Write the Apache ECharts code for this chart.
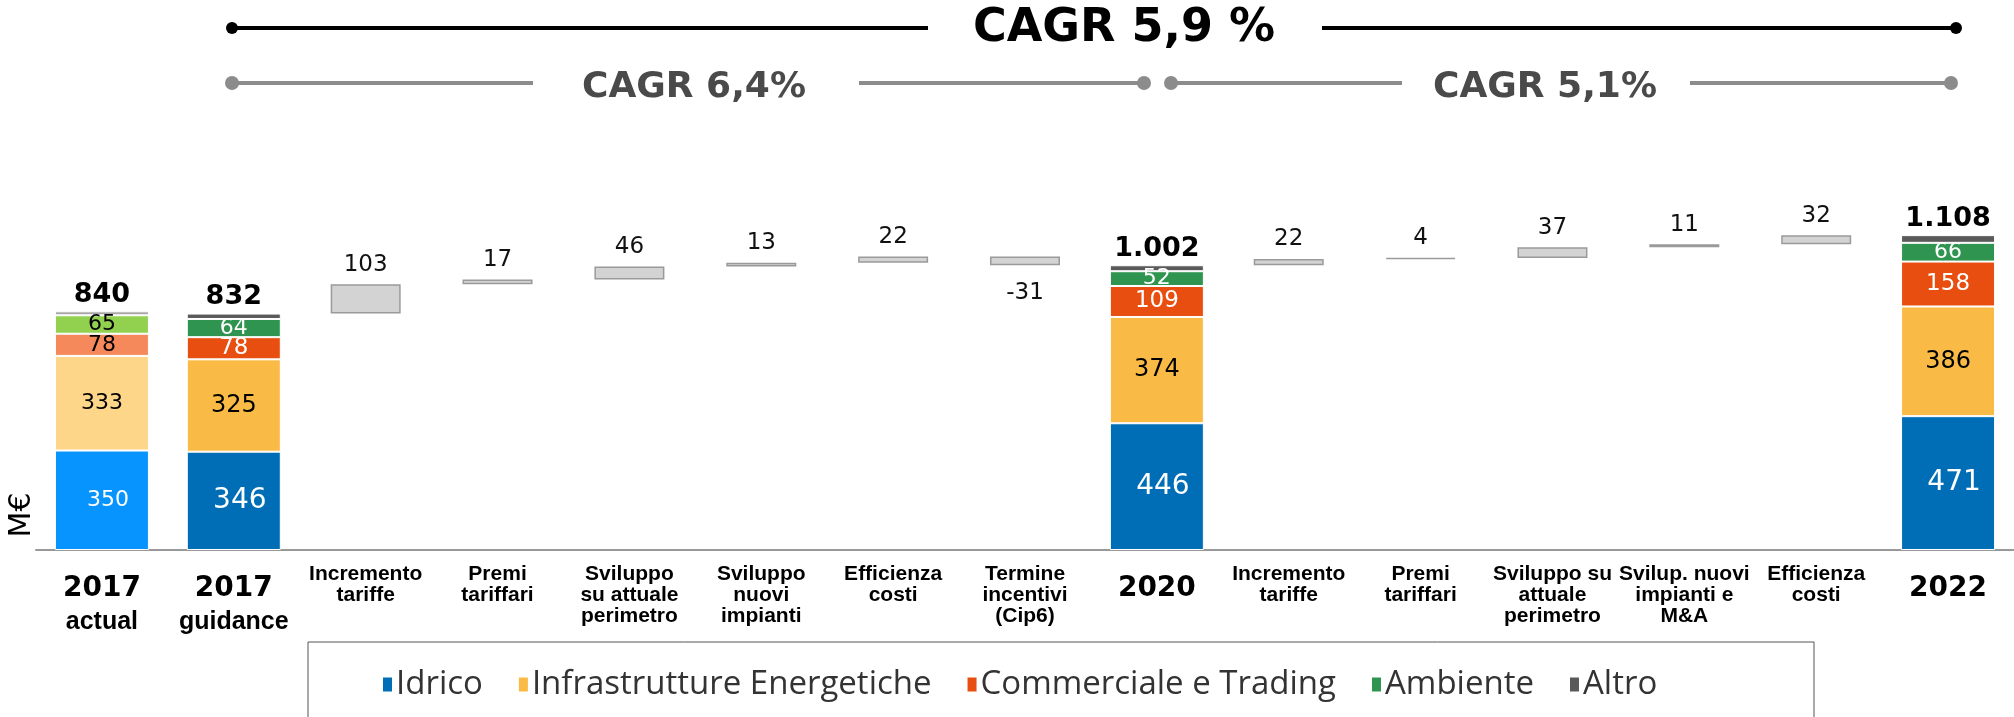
<!DOCTYPE html>
<html>
<head>
<meta charset="utf-8">
<title>Margine - bridge 2017-2022</title>
<script src="https://cdn.jsdelivr.net/npm/echarts@6/dist/echarts.min.js"></script>
<style>
    html, body { margin: 0; padding: 0; background: #fff; }
    #chart { width: 2014px; height: 717px; }
</style>
</head>
<body>
<div id="chart"></div>
<script>
// categorie (una per colonna)
const categories = ['2017 actual', '2017 guidance', 'Incremento tariffe', 'Premi tariffari',
    'Sviluppo su attuale perimetro', 'Sviluppo nuovi impianti', 'Efficienza costi',
    'Termine incentivi (Cip6)', '2020', 'Incremento tariffe ', 'Premi tariffari ',
    'Sviluppo su attuale perimetro ', 'Svilup. nuovi impianti e M&A', 'Efficienza costi ', '2022'];
const tickLabels = ['2017\nactual', '2017\nguidance', 'Incremento\ntariffe', 'Premi\ntariffari',
    'Sviluppo\nsu attuale\nperimetro', 'Sviluppo\nnuovi\nimpianti', 'Efficienza\ncosti',
    'Termine\nincentivi\n(Cip6)', '2020', 'Incremento\ntariffe', 'Premi\ntariffari',
    'Sviluppo su\nattuale\nperimetro', 'Svilup. nuovi\nimpianti e\nM&A', 'Efficienza\ncosti', '2022'];

// colonne piene (M€)
const idrico         = [350, 346, null, null, null, null, null, null, 446, null, null, null, null, null, 471];
const infrastrutture = [333, 325, null, null, null, null, null, null, 374, null, null, null, null, null, 386];
const commerciale    = [78,  78,  null, null, null, null, null, null, 109, null, null, null, null, null, 158];
const ambiente       = [65,  64,  null, null, null, null, null, null, 52,  null, null, null, null, null, 66];
const altro          = [14,  19,  null, null, null, null, null, null, 21,  null, null, null, null, null, 27];
const totals         = [840, 832, null, null, null, null, null, null, 1002, null, null, null, null, null, 1108];

// variazioni del ponte
const deltas = [null, null, 103, 17, 46, 13, 22, -31, null, 22, 4, 37, 11, 32, null];

const seriesNames = ['Idrico', 'Infrastrutture Energetiche', 'Commerciale e Trading', 'Ambiente', 'Altro'];
const mainColors = ['#006EB6', '#F9BB45', '#E84E0F', '#2E944F', '#595959'];
const actualColors = ['#0894FF', '#FDD68A', '#F5895C', '#92D050', '#A6A6A6'];

const NUM_FONT = "'DejaVu Sans', sans-serif";
const LBL_FONT = "'Liberation Sans', Arial, sans-serif";

function fmtTotal(v) {
    if (v == null) return '';
    if (v < 1000) return String(v);
    return Math.floor(v / 1000) + '.' + String(v % 1000).padStart(3, '0');
}

function fmtTick(v, i) {
    const lines = tickLabels[i].split('\n');
    if (/^\d{4}$/.test(lines[0])) {
        return '{y|' + lines[0] + '}' + (lines[1] ? '\n{s|' + lines[1] + '}' : '');
    }
    return lines.map(function (l) { return '{t|' + l + '}'; }).join('\n');
}

// base invisibile + scatola del ponte
let running = 0;
const wfBase = [];
const wfBox = [];
deltas.forEach(function (d, i) {
    if (d === null) {
        running = totals[i];
        wfBase.push(null);
        wfBox.push(null);
        return;
    }
    wfBase.push(d >= 0 ? running : running + d);
    wfBox.push({
        value: Math.abs(d),
        label: { position: d >= 0 ? 'top' : 'bottom', distance: d >= 0 ? 8 : 16 }
    });
    running += d;
});

function segSeries(k, values, lblColor, lblSize, bigFirst) {
    return {
        name: seriesNames[k],
        type: 'bar',
        stack: 'tot',
        xAxisIndex: 0,
        barWidth: 94,
        itemStyle: { color: mainColors[k], borderColor: '#fff', borderWidth: 1 },
        label: {
            show: k < 4,
            position: 'inside',
            fontFamily: NUM_FONT,
            fontSize: bigFirst ? 28 : lblSize,
            color: lblColor,
            offset: bigFirst ? [6, 0] : [0, 0]
        },
        emphasis: { disabled: true },
        data: values.map(function (v, i) {
            if (i !== 0 || v == null) return v;
            return {
                value: v,
                itemStyle: { color: actualColors[k] },
                label: { color: k === 0 ? '#fff' : '#000', fontSize: 22 }
            };
        })
    };
}

const series = [
    segSeries(0, idrico, '#fff', 28, true),
    segSeries(1, infrastrutture, '#000', 24, false),
    segSeries(2, commerciale, '#fff', 23, false),
    segSeries(3, ambiente, '#fff', 22, false),
    segSeries(4, altro, '#000', 22, false),
    {
        name: 'base',
        type: 'bar',
        stack: 'wf',
        xAxisIndex: 1,
        barWidth: 70,
        silent: true,
        itemStyle: { color: 'transparent' },
        data: wfBase
    },
    {
        name: 'delta',
        type: 'bar',
        stack: 'wf',
        xAxisIndex: 1,
        barWidth: 70,
        itemStyle: { color: '#D3D3D3', borderColor: '#9a9a9a', borderWidth: 1.5 },
        label: {
            show: true,
            fontFamily: NUM_FONT,
            fontSize: 23,
            color: '#111',
            formatter: function (p) { return String(deltas[p.dataIndex]); }
        },
        data: wfBox
    }
];

// totale sopra l'ultima fetta
series[4].label = {
    show: true,
    position: 'top',
    distance: 3,
    fontFamily: NUM_FONT,
    fontWeight: 'bold',
    fontSize: 27,
    color: '#000',
    formatter: function (p) { return fmtTotal(totals[p.dataIndex]); }
};
series[4].data = altro.map(function (v, i) {
    if (i !== 0 || v == null) return v;
    return { value: v, itemStyle: { color: actualColors[4] } };
});

const grayLine = { stroke: '#8c8c8c', lineWidth: 4 };
const blackLine = { stroke: '#000', lineWidth: 4 };

let myChart = echarts.init(document.getElementById('chart'));
let option = {
    animation: false,
    backgroundColor: '#fff',
    grid: { left: 36, right: 0, top: 209, bottom: 167 },
    xAxis: [{
        type: 'category',
        data: categories,
        axisTick: { show: false },
        axisLine: { lineStyle: { color: '#999', width: 2 } },
        axisLabel: {
            interval: 0,
            margin: 14,
            color: '#000',
            formatter: fmtTick,
            rich: {
                y: { fontFamily: NUM_FONT, fontWeight: 'bold', fontSize: 28, lineHeight: 50, color: '#000' },
                s: { fontFamily: LBL_FONT, fontWeight: 'bold', fontSize: 25, lineHeight: 16, color: '#000' },
                t: { fontFamily: LBL_FONT, fontWeight: 'bold', fontSize: 21, lineHeight: 21, color: '#000' }
            }
        }
    }, {
        type: 'category',
        data: categories,
        show: false
    }],
    yAxis: { type: 'value', min: 0, max: 1200, show: false },
    legend: {
        data: seriesNames,
        left: 376,
        top: 663,
        icon: 'rect',
        itemWidth: 11,
        itemHeight: 16,
        itemGap: 34,
        selectedMode: false,
        textStyle: { fontFamily: "'Open Sans', sans-serif", fontSize: 33, color: '#333', padding: [0, 0, 0, -2] }
    },
    graphic: [
        { type: 'rect', silent: true, shape: { x: 308, y: 642, width: 1506, height: 100 },
          style: { fill: 'none', stroke: '#555', lineWidth: 1 } },
        { type: 'text', silent: true, x: 22, y: 515, rotation: Math.PI / 2,
          style: { text: 'M€', fontFamily: NUM_FONT, fontSize: 30, fill: '#000', align: 'center', verticalAlign: 'middle' } },
        // CAGR 5,9 %
        { type: 'line', silent: true, shape: { x1: 232, y1: 28, x2: 928, y2: 28 }, style: blackLine },
        { type: 'line', silent: true, shape: { x1: 1322, y1: 28, x2: 1956, y2: 28 }, style: blackLine },
        { type: 'circle', silent: true, shape: { cx: 232, cy: 28, r: 6 }, style: { fill: '#000' } },
        { type: 'circle', silent: true, shape: { cx: 1956, cy: 28, r: 6 }, style: { fill: '#000' } },
        { type: 'text', silent: true, x: 1124, y: 29,
          style: { text: 'CAGR 5,9 %', fontFamily: NUM_FONT, fontWeight: 'bold', fontSize: 46, fill: '#000', align: 'center', verticalAlign: 'middle' } },
        // CAGR 6,4%
        { type: 'line', silent: true, shape: { x1: 232, y1: 83, x2: 533, y2: 83 }, style: grayLine },
        { type: 'line', silent: true, shape: { x1: 859, y1: 83, x2: 1144, y2: 83 }, style: grayLine },
        { type: 'circle', silent: true, shape: { cx: 232, cy: 83, r: 7 }, style: { fill: '#8c8c8c' } },
        { type: 'circle', silent: true, shape: { cx: 1144, cy: 83, r: 7 }, style: { fill: '#8c8c8c' } },
        { type: 'text', silent: true, x: 694, y: 88,
          style: { text: 'CAGR 6,4%', fontFamily: NUM_FONT, fontWeight: 'bold', fontSize: 36, fill: '#4a4a4a', align: 'center', verticalAlign: 'middle' } },
        // CAGR 5,1%
        { type: 'line', silent: true, shape: { x1: 1171, y1: 83, x2: 1402, y2: 83 }, style: grayLine },
        { type: 'line', silent: true, shape: { x1: 1690, y1: 83, x2: 1951, y2: 83 }, style: grayLine },
        { type: 'circle', silent: true, shape: { cx: 1171, cy: 83, r: 7 }, style: { fill: '#8c8c8c' } },
        { type: 'circle', silent: true, shape: { cx: 1951, cy: 83, r: 7 }, style: { fill: '#8c8c8c' } },
        { type: 'text', silent: true, x: 1545, y: 88,
          style: { text: 'CAGR 5,1%', fontFamily: NUM_FONT, fontWeight: 'bold', fontSize: 36, fill: '#4a4a4a', align: 'center', verticalAlign: 'middle' } }
    ],
    series: series
};
myChart.setOption(option);
window.onresize = function () {
    myChart.resize();
};
</script>
</body>
</html>
